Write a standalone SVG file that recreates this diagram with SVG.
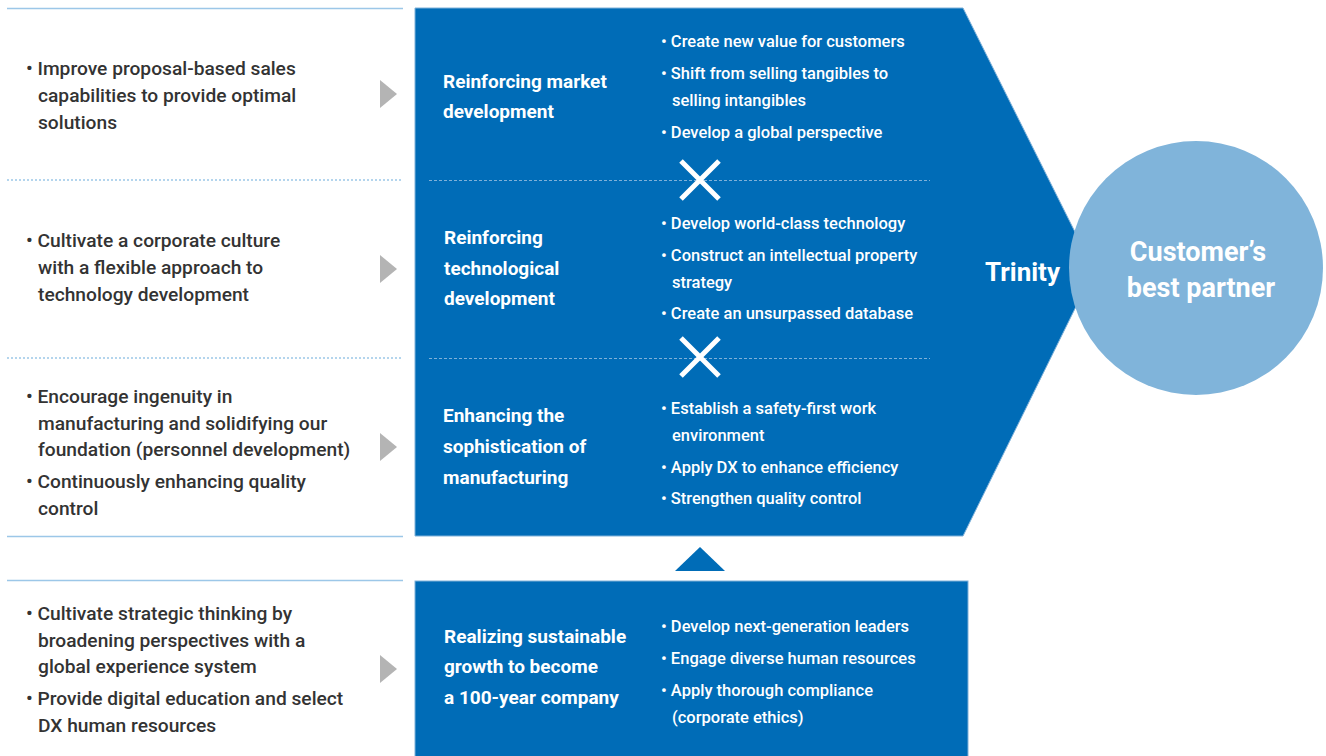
<svg xmlns="http://www.w3.org/2000/svg" width="1326" height="756" viewBox="0 0 1326 756">
<style>
.lt{font-family:Roboto,"Liberation Sans",sans-serif;font-size:19.2px;font-weight:500;fill:#333333}
.hd{font-family:Roboto,"Liberation Sans",sans-serif;font-size:19px;font-weight:700;fill:#ffffff}
.bl{font-family:Roboto,"Liberation Sans",sans-serif;font-size:16.5px;font-weight:500;fill:#ffffff}
.big{font-family:Roboto,"Liberation Sans",sans-serif;font-size:26px;font-weight:700;fill:#ffffff}
.big2{font-family:Roboto,"Liberation Sans",sans-serif;font-size:27px;font-weight:700;fill:#ffffff}
.sep{stroke:#9cc7e8;stroke-width:1.5;fill:none}
.dot{stroke:#9cc7e8;stroke-width:1.5;stroke-dasharray:2 2;fill:none}
.idash{stroke:#7fb1d9;stroke-width:1;stroke-dasharray:3 2;fill:none}
.garr{fill:#b4b4b4}
.xm{stroke:#ffffff;stroke-width:5;fill:none}
</style>
<rect width="1326" height="756" fill="#ffffff"/>
<g id="separators">
<line class="sep" x1="7" y1="8.5" x2="403" y2="8.5"/>
<line class="dot" x1="7" y1="180" x2="403" y2="180"/>
<line class="dot" x1="7" y1="358" x2="403" y2="358"/>
<line class="sep" x1="7" y1="536.5" x2="403" y2="536.5"/>
<line class="sep" x1="7" y1="580.5" x2="403" y2="580.5"/>
</g>
<g id="main-pentagon">
<polygon points="415,8 963,8 1094,270 963,536 415,536" fill="#006cb7" stroke="#7fb1d9" stroke-width="1"/>
<line class="idash" x1="429" y1="180.5" x2="930" y2="180.5"/>
<line class="idash" x1="429" y1="358.5" x2="930" y2="358.5"/>
<path class="xm" d="M681,161 L719,199 M719,161 L681,199"/>
<path class="xm" d="M681,338 L719,376 M719,338 L681,376"/>
<text class="big" x="985" y="281">Trinity</text>
</g>
<g id="circle">
<circle cx="1196" cy="268" r="127" fill="#80b4da"/>
<text class="big2" x="1198" y="261" text-anchor="middle">Customer’s</text>
<text class="big2" x="1201" y="297" text-anchor="middle">best partner</text>
</g>
<g id="connectors">
<polygon class="garr" points="380,80 397,94 380,108"/>
<polygon class="garr" points="380,255 397,269 380,283"/>
<polygon class="garr" points="380,433 397,447 380,461"/>
<polygon class="garr" points="380,655 397,669 380,683"/>
<polygon points="675,571 700,547 725,571" fill="#006cb7"/>
</g>
<g id="row1">
<text class="lt" x="26" y="75">• Improve proposal-based sales</text>
<text class="lt" x="38" y="102">capabilities to provide optimal</text>
<text class="lt" x="38" y="129">solutions</text>
<text class="hd" x="443" y="88">Reinforcing market</text>
<text class="hd" x="443" y="118">development</text>
<text class="bl" x="661" y="47">• Create new value for customers</text>
<text class="bl" x="661" y="79">• Shift from selling tangibles to</text>
<text class="bl" x="672" y="106">selling intangibles</text>
<text class="bl" x="661" y="138">• Develop a global perspective</text>
</g>
<g id="row2">
<text class="lt" x="26" y="247">• Cultivate a corporate culture</text>
<text class="lt" x="38" y="274">with a flexible approach to</text>
<text class="lt" x="38" y="301">technology development</text>
<text class="hd" x="444" y="244">Reinforcing</text>
<text class="hd" x="444" y="275">technological</text>
<text class="hd" x="444" y="305">development</text>
<text class="bl" x="661" y="229">• Develop world-class technology</text>
<text class="bl" x="661" y="261">• Construct an intellectual property</text>
<text class="bl" x="672" y="288">strategy</text>
<text class="bl" x="661" y="319">• Create an unsurpassed database</text>
</g>
<g id="row3">
<text class="lt" x="26" y="403">• Encourage ingenuity in</text>
<text class="lt" x="38" y="430">manufacturing and solidifying our</text>
<text class="lt" x="38" y="456">foundation (personnel development)</text>
<text class="lt" x="26" y="488">• Continuously enhancing quality</text>
<text class="lt" x="38" y="515">control</text>
<text class="hd" x="443" y="422">Enhancing the</text>
<text class="hd" x="443" y="453">sophistication of</text>
<text class="hd" x="443" y="484">manufacturing</text>
<text class="bl" x="661" y="414">• Establish a safety-first work</text>
<text class="bl" x="672" y="441">environment</text>
<text class="bl" x="661" y="473">• Apply DX to enhance efficiency</text>
<text class="bl" x="661" y="504">• Strengthen quality control</text>
</g>
<g id="row4">
<rect x="415" y="581" width="553" height="180" fill="#006cb7" stroke="#7fb1d9" stroke-width="1"/>
<text class="lt" x="26" y="620">• Cultivate strategic thinking by</text>
<text class="lt" x="38" y="647">broadening perspectives with a</text>
<text class="lt" x="38" y="673">global experience system</text>
<text class="lt" x="26" y="705">• Provide digital education and select</text>
<text class="lt" x="38" y="732">DX human resources</text>
<text class="hd" x="444" y="643">Realizing sustainable</text>
<text class="hd" x="444" y="673">growth to become</text>
<text class="hd" x="444" y="704">a 100-year company</text>
<text class="bl" x="661" y="632">• Develop next-generation leaders</text>
<text class="bl" x="661" y="664">• Engage diverse human resources</text>
<text class="bl" x="661" y="696">• Apply thorough compliance</text>
<text class="bl" x="672" y="723">(corporate ethics)</text>
</g>
</svg>
